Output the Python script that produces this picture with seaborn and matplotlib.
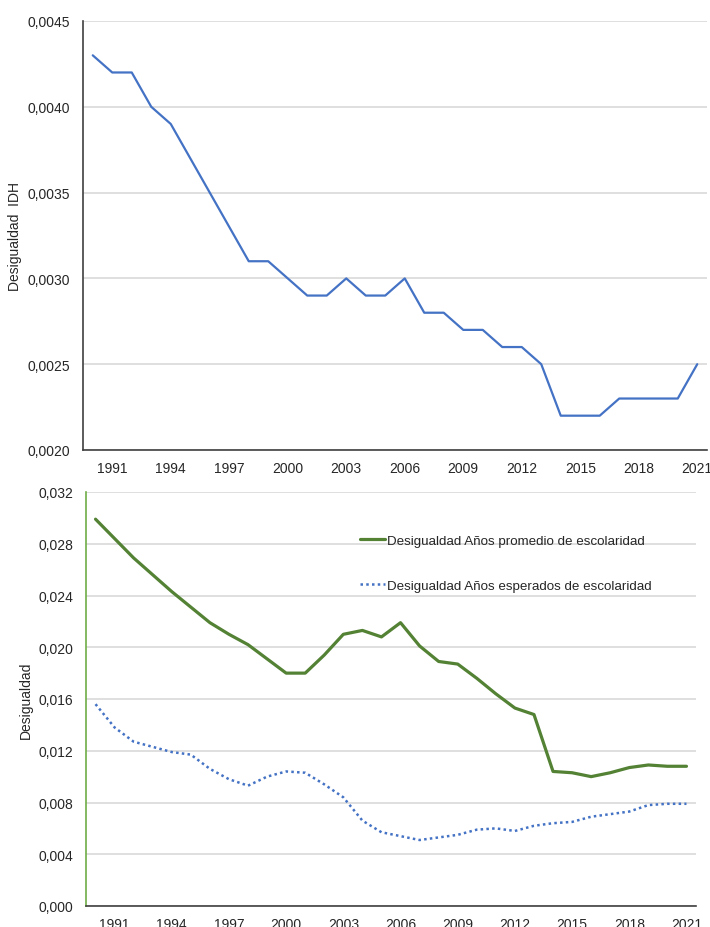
import numpy as np
import pandas as pd
import matplotlib
matplotlib.use("Agg")
import matplotlib.pyplot as plt
import seaborn as sns
from matplotlib.ticker import FuncFormatter, FixedLocator

# -----------------------------
# Data
# -----------------------------
years = list(range(1990, 2022))

idh_ineq = [0.0043, 0.0042, 0.0042, 0.0040, 0.0039, 0.0037, 0.0035, 0.0033,
            0.0031, 0.0031, 0.0030, 0.0029, 0.0029, 0.0030, 0.0029, 0.0029,
            0.0030, 0.0028, 0.0028, 0.0027, 0.0027, 0.0026, 0.0026, 0.0025,
            0.0022, 0.0022, 0.0022, 0.0023, 0.0023, 0.0023, 0.0023, 0.0025]

mean_school = [0.0299, 0.0284, 0.0269, 0.0256, 0.0243, 0.0231, 0.0219, 0.0210,
               0.0202, 0.0191, 0.0180, 0.0180, 0.0194, 0.0210, 0.0213, 0.0208,
               0.0219, 0.0201, 0.0189, 0.0187, 0.0176, 0.0164, 0.0153, 0.0148,
               0.0104, 0.0103, 0.0100, 0.0103, 0.0107, 0.0109, 0.0108, 0.0108]

expected_school = [0.0156, 0.0138, 0.0127, 0.0123, 0.0119, 0.0117, 0.0106, 0.0098,
                   0.0093, 0.0100, 0.0104, 0.0103, 0.0094, 0.0084, 0.0066, 0.0057,
                   0.0054, 0.0051, 0.0053, 0.0055, 0.0059, 0.0060, 0.0058, 0.0062,
                   0.0064, 0.0065, 0.0069, 0.0071, 0.0073, 0.0078, 0.0079, 0.0079]

label_years = list(range(1991, 2022, 3))

lbl_mean = "Desigualdad Años promedio de escolaridad"
lbl_exp = "Desigualdad Años esperados de escolaridad"

df_top = pd.DataFrame({"year": years, "value": idh_ineq})
df_bot = pd.DataFrame({"year": years, "mean": mean_school, "expected": expected_school})

# -----------------------------
# Style
# -----------------------------
sns.set_style("white")
plt.rcParams["font.family"] = ["Liberation Sans", "DejaVu Sans"]
plt.rcParams["font.size"] = 10

BLUE = "#4472C4"
GREEN = "#548235"
GRID = "#D9D9D9"

fig = plt.figure(figsize=(7.10, 9.28), dpi=100)
W, H = 710, 928
ax1 = fig.add_axes([83 / W, 1 - 451 / H, (707 - 83) / W, (451 - 22) / H])
ax2 = fig.add_axes([86 / W, 1 - 907 / H, (696 - 86) / W, (907 - 493) / H])


def comma_fmt(decimals):
    return FuncFormatter(lambda v, p: f"{v:.{decimals}f}".replace(".", ","))


def style_axis(ax, ymin, ymax, step, decimals, left_color):
    ax.set_xlim(1989.5, 2021.5)
    ax.set_ylim(ymin, ymax)
    ax.set_yticks(np.arange(ymin, ymax + step / 2, step))
    ax.yaxis.set_major_formatter(comma_fmt(decimals))
    ax.yaxis.grid(True, color=GRID, linewidth=1.2)
    ax.set_axisbelow(True)
    ax.xaxis.set_major_locator(FixedLocator(label_years))
    ax.xaxis.set_minor_locator(FixedLocator(np.arange(1989.5, 2022, 1)))
    ax.tick_params(axis="x", which="major", length=0, pad=8, labelsize=10)
    ax.tick_params(axis="x", which="minor", length=4, width=1, color="#404040", direction="out")
    ax.tick_params(axis="y", length=0, pad=9, labelsize=10)
    for s in ["top", "right"]:
        ax.spines[s].set_visible(False)
    ax.spines["bottom"].set_color("#404040")
    ax.spines["bottom"].set_linewidth(1.2)
    ax.spines["left"].set_color(left_color)
    ax.spines["left"].set_linewidth(1.2)
    ax.set_xlabel("")


# Top chart
sns.lineplot(data=df_top, x="year", y="value", ax=ax1, color=BLUE, linewidth=1.6)
style_axis(ax1, 0.0020, 0.0045, 0.0005, 4, "#404040")
ax1.set_ylabel("Desigualdad  IDH", fontsize=10, labelpad=4)

# Bottom chart
sns.lineplot(data=df_bot, x="year", y="mean", ax=ax2, color=GREEN, linewidth=2.3, label=lbl_mean)
sns.lineplot(data=df_bot, x="year", y="expected", ax=ax2, color=BLUE, linewidth=1.8,
             linestyle=(0, (1, 1.3)), label=lbl_exp)
style_axis(ax2, 0.0, 0.032, 0.004, 3, "#70AD47")
ax2.set_ylabel("Desigualdad", fontsize=10, labelpad=4)

ax2.legend(loc="upper left", bbox_to_anchor=(0.449, 0.898), frameon=False,
           fontsize=9.6, handlelength=1.9, handletextpad=0.15, labelspacing=2.45,
           borderpad=0, borderaxespad=0)

fig.savefig("out.png", dpi=100)
